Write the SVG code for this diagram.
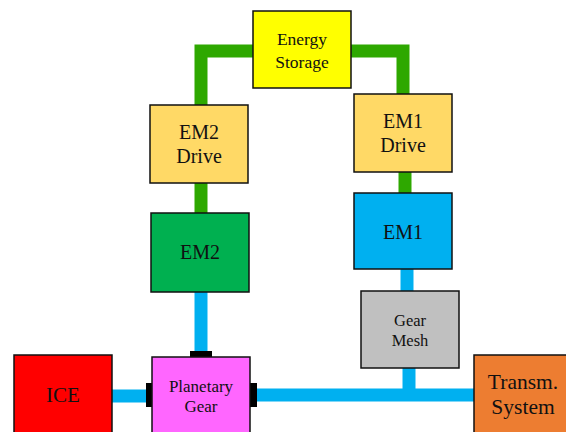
<svg xmlns="http://www.w3.org/2000/svg" width="566" height="432" viewBox="0 0 566 432">
<style>
.box{stroke:#111;stroke-width:1.5}
.t{font-family:"Liberation Serif","Times New Roman",serif;text-anchor:middle;fill:#111}
.g{fill:none;stroke:#2EA800;stroke-width:13;stroke-linejoin:miter}
.b{fill:none;stroke:#00B0F0;stroke-width:13}
.tab{fill:#000}
</style>
<rect width="566" height="432" fill="#fff"/>
<g id="connectors">
<path class="g" d="M201,106 V51 H254"/>
<path class="g" d="M350,51 H403 V95"/>
<path class="g" d="M201,182 V214"/>
<path class="g" d="M405,171 V194"/>
<path class="b" d="M201,291 V351"/>
<path class="b" d="M407,268 V292"/>
<path class="b" d="M112,396 H147"/>
<path class="b" d="M256,395 H475"/>
<path class="b" d="M409,367 V395"/>
<rect class="tab" x="190" y="351" width="22" height="7"/>
<rect class="tab" x="146" y="383" width="7" height="24"/>
<rect class="tab" x="250" y="383" width="7" height="24"/>
</g>
<g id="energy-storage">
<rect class="box" x="253" y="11" width="98" height="77" fill="#FFFF00"/>
<text class="t" x="302" y="45" font-size="17.5">Energy</text>
<text class="t" x="302" y="68" font-size="17.5">Storage</text>
</g>
<g id="em2-drive">
<rect class="box" x="150" y="105" width="98" height="78" fill="#FFD966"/>
<text class="t" x="199" y="139" font-size="20">EM2</text>
<text class="t" x="199" y="163" font-size="20">Drive</text>
</g>
<g id="em1-drive">
<rect class="box" x="354" y="94" width="98" height="78" fill="#FFD966"/>
<text class="t" x="403" y="128" font-size="20">EM1</text>
<text class="t" x="403" y="152" font-size="20">Drive</text>
</g>
<g id="em2">
<rect class="box" x="151" y="213" width="98" height="79" fill="#00B050"/>
<text class="t" x="200" y="259" font-size="20">EM2</text>
</g>
<g id="em1">
<rect class="box" x="354" y="193" width="98" height="76" fill="#00B0F0"/>
<text class="t" x="403" y="239" font-size="20">EM1</text>
</g>
<g id="gear-mesh">
<rect class="box" x="361" y="291" width="98" height="77" fill="#C0C0C0"/>
<text class="t" x="410" y="326" font-size="16.5">Gear</text>
<text class="t" x="410" y="346" font-size="16.5">Mesh</text>
</g>
<g id="ice">
<rect class="box" x="14" y="355" width="98" height="80" fill="#FF0000"/>
<text class="t" x="63" y="402" font-size="21">ICE</text>
</g>
<g id="planetary-gear">
<rect class="box" x="152" y="357" width="98" height="80" fill="#FF66FF"/>
<text class="t" x="201" y="392" font-size="17">Planetary</text>
<text class="t" x="201" y="412" font-size="17">Gear</text>
</g>
<g id="transm-system">
<rect class="box" x="474" y="355" width="98" height="80" fill="#ED7D31"/>
<text class="t" x="523" y="389" font-size="21.5">Transm.</text>
<text class="t" x="523" y="414" font-size="21.5">System</text>
</g>
</svg>
